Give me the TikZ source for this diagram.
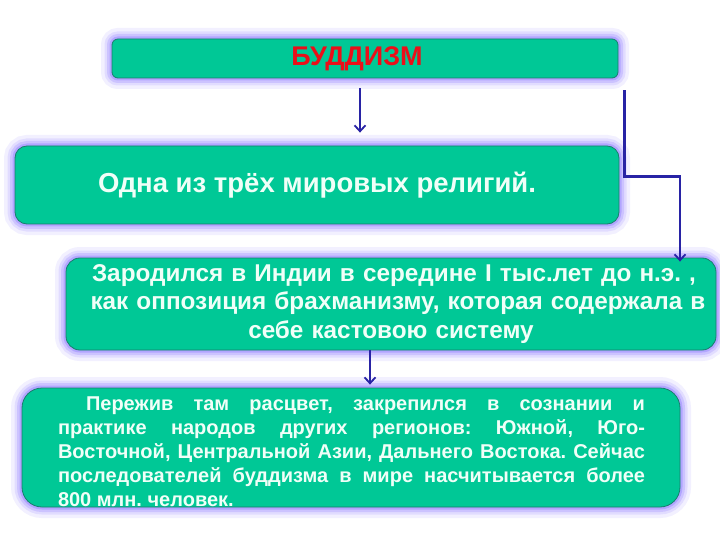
\documentclass[tikz,border=0pt]{standalone}
\usepackage{fontspec}
\setmainfont{Liberation Sans}
\usetikzlibrary{arrows.meta,calc}
\definecolor{boxfill}{RGB}{0,200,150}
\definecolor{boxline}{RGB}{25,125,110}
\definecolor{glow}{RGB}{130,110,255}
\definecolor{arrowc}{RGB}{40,35,165}
\definecolor{txt}{RGB}{240,255,248}
\definecolor{titlec}{RGB}{235,15,25}
\tikzset{
 card/.style={rounded corners=#1, fill=boxfill, draw=boxline, line width=0.8pt,
   preaction={draw=glow, draw opacity=0.10, line width=22pt},
   preaction={draw=glow, draw opacity=0.15, line width=15pt},
   preaction={draw=glow, draw opacity=0.22, line width=10pt},
   preaction={draw=glow, draw opacity=0.35, line width=5pt},
   inner sep=0pt, text=txt},
 link/.style={draw=arrowc, line width=2.2pt, -{Straight Barb[length=6pt,width=11pt,line width=1.8pt]}}
}
\begin{document}
\frenchspacing
\begin{tikzpicture}[x=1pt,y=-1pt]
\fill[white] (0,0) rectangle (720,540);
\useasboundingbox (0,0) rectangle (720,540);

\node[card=6pt, minimum width=506pt, minimum height=39pt, text=titlec,
  font=\bfseries\fontsize{27}{30}\selectfont] (b1) at (365,58.5) {\hspace*{-16pt}БУДДИЗМ};

\node[card=12pt, minimum width=604pt, minimum height=78pt,
  font=\bfseries\fontsize{27.5}{32}\selectfont] (b2) at (317,185) {Одна из трёх мировых религий.};

\node[card=14pt, minimum width=650pt, minimum height=92pt, text width=648pt, align=center,
  font=\bfseries\fontsize{24.3}{28.5}\selectfont] (b3) at (391,304)
  {\hspace*{6pt}Зародился в Индии в середине I тыс.лет до н.э. ,\\ \hspace*{14pt}как оппозиция брахманизму, которая содержала в\\ себе кастовою систему};

\node[card=20pt, minimum width=658pt, minimum height=119pt] (b4) at (351,447.5) {};
\node[text=txt, inner sep=0pt, text width=587pt, align=justify,
  font=\bfseries\fontsize{20}{24}\selectfont] (t4) at (351.5,451.5)
  {\hspace*{28pt}Пережив там расцвет, закрепился в сознании и\linebreak
   практике народов других регионов: Южной, Юго-\linebreak
   Восточной, Центральной Азии, Дальнего Востока. Сейчас\linebreak
   последователей буддизма в мире насчитывается более\linebreak
   800 млн. человек.};

\draw[link] ($(b1.south)+(-5,10)$) -- ($(b2.north)+(43,-13)$);
\draw[link] ($(b1.south east)+(6,12)$) |- ($(b3.north)+(289,-81)$) -- ($(b3.north)+(289,4)$);
\draw[link] ($(b3.south)+(-21,0)$) -- ($(b4.north)+(19,-3)$);
\end{tikzpicture}
\end{document}
